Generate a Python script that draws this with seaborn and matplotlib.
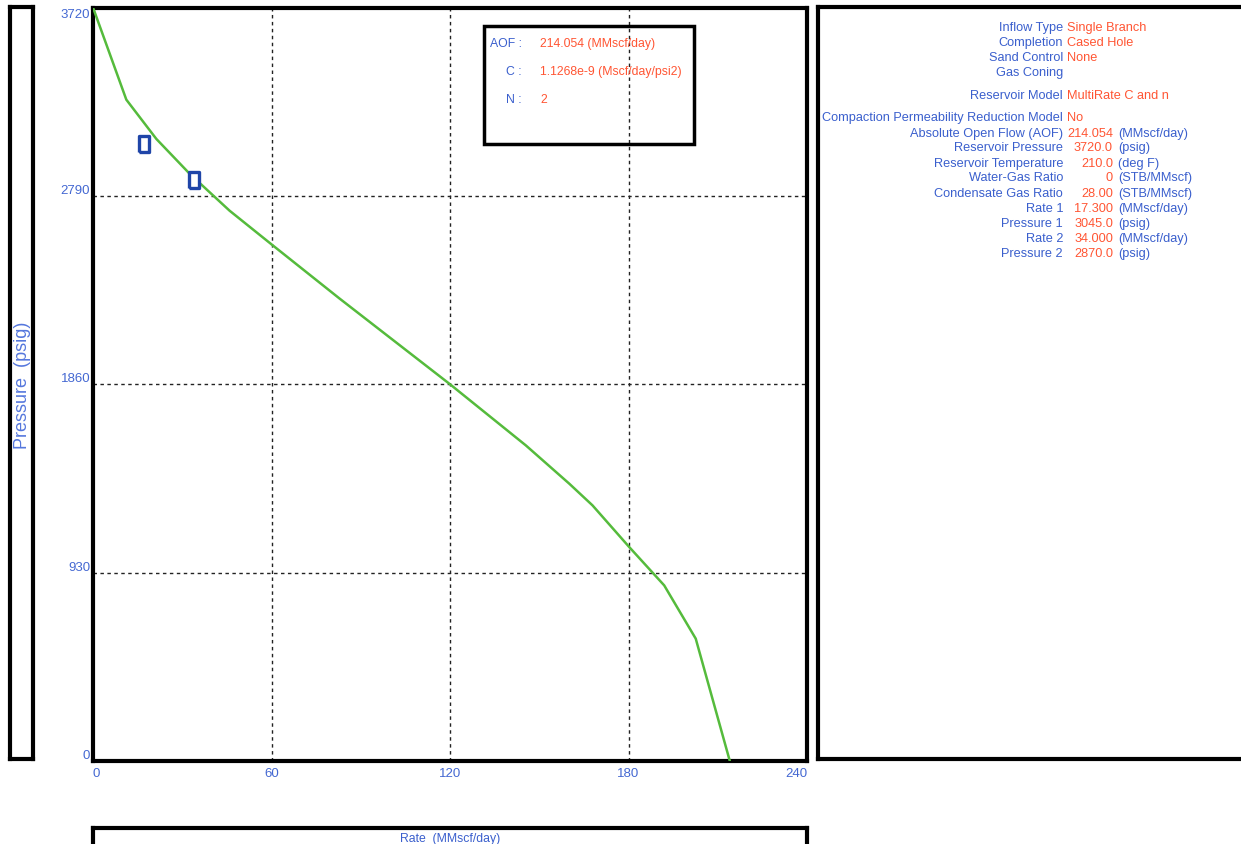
import numpy as np
import pandas as pd
import matplotlib
matplotlib.use("Agg")
import matplotlib.pyplot as plt
import seaborn as sns

# ---------------- data ----------------
ipr_rate = [0, 11.2, 21.3, 32.5, 45.9, 59.8, 82.8, 120.0, 145.5, 160.1,
            167.9, 180.2, 192.0, 202.6, 214.054]
ipr_pressure = [3720, 3265, 3071, 2899, 2717, 2553, 2284, 1860, 1558, 1369,
                1262, 1057, 867, 604, 0]
test_rate = [17.3, 34.0]
test_pressure = [3045.0, 2870.0]

x_ticks = [0, 60, 120, 180, 240]
y_ticks = [0, 930, 1860, 2790, 3720]

legend_labels = ["AOF :", "C :", "N :"]
legend_values = ["214.054 (MMscf/day)", "1.1268e-9 (Mscf/day/psi2)", "2"]

info_labels = ["Inflow Type", "Completion", "Sand Control", "Gas Coning",
               "Reservoir Model", "Compaction Permeability Reduction Model",
               "Absolute Open Flow (AOF)", "Reservoir Pressure",
               "Reservoir Temperature", "Water-Gas Ratio", "Condensate Gas Ratio",
               "Rate 1", "Pressure 1", "Rate 2", "Pressure 2"]
info_values = ["Single Branch", "Cased Hole", "None", "",
               "MultiRate C and n", "No",
               "214.054", "3720.0", "210.0", "0", "28.00",
               "17.300", "3045.0", "34.000", "2870.0"]
info_units = ["", "", "", "", "", "",
              "(MMscf/day)", "(psig)", "(deg F)", "(STB/MMscf)", "(STB/MMscf)",
              "(MMscf/day)", "(psig)", "(MMscf/day)", "(psig)"]
info_rows_y = [28, 43, 58, 73, 96, 118, 134, 148, 164, 178, 194, 209, 224, 239, 254]

# ---------------- style ----------------
sns.set_style("white")
plt.rcParams['font.family'] = ['Liberation Sans', 'DejaVu Sans']

BLUE = "#3a5fcd"
TICKBLUE = "#4468d2"
ORANGE = "#ff5533"
GREEN = "#55bb3c"
MARK = "#1f45a8"

W, H = 1241, 845
fig = plt.figure(figsize=(W / 100, H / 100), dpi=100)


def fx(px):
    return px / W


def fy(py):
    return 1 - py / H


# main axes
ax = fig.add_axes([fx(93), fy(762), fx(807) - fx(93), fy(8.5) - fy(762)])
ipr_df = pd.DataFrame({"rate": ipr_rate, "pressure": ipr_pressure})
test_df = pd.DataFrame({"rate": test_rate, "pressure": test_pressure})

for v in x_ticks[1:-1]:
    ax.axvline(v, color="#222222", lw=1.0, ls=(0, (2.5, 2.5)), zorder=1)
for v in y_ticks[1:-1]:
    ax.axhline(v, color="#222222", lw=1.0, ls=(0, (2.5, 2.5)), zorder=1)

sns.lineplot(data=ipr_df, x="rate", y="pressure", sort=False, color=GREEN,
             lw=1.8, ax=ax, zorder=3)
rect_marker = [(-0.3, -0.5), (0.3, -0.5), (0.3, 0.5), (-0.3, 0.5), (-0.3, -0.5)]
ax.plot(test_df["rate"], test_df["pressure"], ls="none", marker=rect_marker,
        markersize=11, markerfacecolor="white", markeredgecolor=MARK,
        markeredgewidth=2.4, zorder=4)

ax.set_xlim(0, 240)
ax.set_ylim(0, 3720)
ax.set_xticks(x_ticks)
ax.set_yticks(y_ticks)
ax.set_xticklabels([str(t) for t in x_ticks])
ax.set_yticklabels([str(t) for t in y_ticks])
ax.tick_params(axis="both", length=0, labelsize=9.5, labelcolor=TICKBLUE)
ax.tick_params(axis="y", pad=2)
ax.tick_params(axis="x", pad=4)
ax.set_xlabel("")
ax.set_ylabel("")
for lab in ax.get_yticklabels():
    lab.set_va("bottom")
ax.get_yticklabels()[-1].set_va("top")
ax.get_xticklabels()[0].set_ha("left")
ax.get_xticklabels()[-1].set_ha("right")
for s in ax.spines.values():
    s.set_visible(True)
    s.set_color("black")
    s.set_linewidth(3)

# legend-like box inside the plot
fig.patches.append(plt.Rectangle((fx(484), fy(145)), fx(694) - fx(484), fy(27) - fy(145),
                                 transform=fig.transFigure, fill=False,
                                 edgecolor="black", lw=2.5, zorder=5))
for i, (lab, val) in enumerate(zip(legend_labels, legend_values)):
    yy = fy(44 + i * 28)
    fig.text(fx(522), yy, lab, color=BLUE, fontsize=8.8, ha="right", va="center")
    fig.text(fx(540), yy, val, color=ORANGE, fontsize=8.8, ha="left", va="center")

# left y-label box
lax = fig.add_axes([fx(10), fy(760), fx(33) - fx(10), fy(8) - fy(760)])
lax.set_xticks([])
lax.set_yticks([])
for s in lax.spines.values():
    s.set_visible(True)
    s.set_color("black")
    s.set_linewidth(3)
fig.text(fx(23), fy(385), "Pressure  (psig)", rotation=90, color="#5577dd",
         fontsize=13, ha="center", va="center")

# right info panel
rax = fig.add_axes([fx(818), fy(760), fx(1260) - fx(818), fy(8) - fy(760)])
rax.set_xticks([])
rax.set_yticks([])
for s in rax.spines.values():
    s.set_visible(True)
    s.set_color("black")
    s.set_linewidth(3)

FS = 9.2
for lab, val, unit, py in zip(info_labels, info_values, info_units, info_rows_y):
    fig.text(fx(1063), fy(py), lab, color=BLUE, fontsize=FS, ha="right", va="center")
    if unit:
        fig.text(fx(1113), fy(py), val, color=ORANGE, fontsize=FS, ha="right", va="center")
        fig.text(fx(1118), fy(py), unit, color=BLUE, fontsize=FS, ha="left", va="center")
    elif val:
        fig.text(fx(1067), fy(py), val, color=ORANGE, fontsize=FS, ha="left", va="center")

# bottom x-label box
bax = fig.add_axes([fx(93), fy(860), fx(807) - fx(93), fy(829) - fy(860)])
bax.set_xticks([])
bax.set_yticks([])
for s in bax.spines.values():
    s.set_visible(True)
    s.set_color("black")
    s.set_linewidth(3)
fig.text(fx(450), fy(839), "Rate  (MMscf/day)", color=BLUE, fontsize=8.8,
         ha="center", va="center")

fig.savefig("out.png", dpi=100)
